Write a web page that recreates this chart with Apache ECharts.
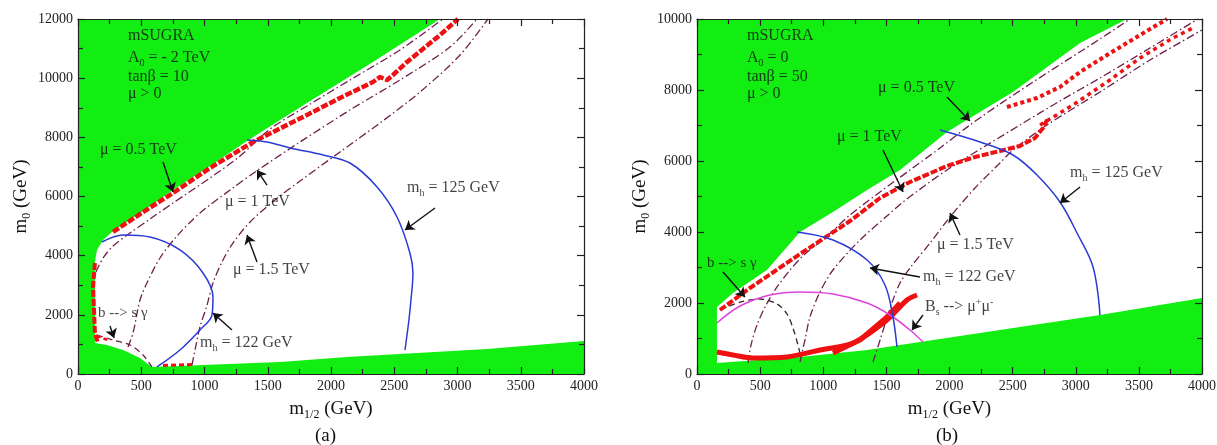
<!DOCTYPE html>
<html>
<head>
<meta charset="utf-8">
<script src="https://cdn.jsdelivr.net/npm/echarts@6/dist/echarts.min.js"></script>
<style>
  html, body { margin: 0; padding: 0; background: #ffffff; }
  #chart { width: 1217px; height: 445px; }
</style>
</head>
<body>
<div id="chart"></div>
<script>
// ---------- axes ----------
const xTicks  = [0, 500, 1000, 1500, 2000, 2500, 3000, 3500, 4000];
const yTicksA = [0, 2000, 4000, 6000, 8000, 10000, 12000];
const yTicksB = [0, 2000, 4000, 6000, 8000, 10000];

// ---------- panel (a): A0 = -2 TeV, tan(beta) = 10 ----------
// theoretically allowed region (outline, m1/2 vs m0 in GeV)
const allowedA = [[134,1048],[134,3786],[150,4192],[198,4530],[277,4834],[490,5442],[751,6220],
  [1043,7031],[1336,7876],[1810,9161],[2332,10547],[2862,12000],[4000,12000],[4000,1115],
  [3233,845],[2126,574],[1597,406],[988,304],[585,237],[490,541],[356,811],[229,980]];
const relicBandA = [[277,4800],[490,5408],[751,6118],[1043,6963],[1383,7842],[1541,8180],[1810,8755],
  [2071,9330],[2332,9870],[2387,10040],[2443,9938],[2490,10107],[2601,10547],[2862,11459],[3004,12000]];
const relicEdgeA = [[134,3752],[119,2941],[134,1386],[158,1048]];
const relicCornerA = [[150,1284],[253,1115]];
const relicBottomA = [[672,290],[909,320]];
const mu05A = [[142,3448],[198,3921],[277,4327],[411,4766],[569,5240],[751,5780],[1043,6625],
  [1281,7369],[1518,8282],[1810,9059],[2150,9938],[2545,10952],[2885,12000]];
const mu10A = [[395,913],[435,1386],[490,2501],[545,3076],[648,3921],[783,4665],[964,5442],
  [1202,6220],[1423,6896],[1755,7842],[2150,8924],[2545,9938],[2941,11054],[3154,12000]];
const mu15A = [[901,304],[933,980],[964,1589],[1020,2332],[1067,3076],[1138,3786],[1225,4428],
  [1360,5138],[1557,5882],[1755,6524],[2071,7504],[2387,8485],[2704,9532],[3020,10783],[3241,12000]];
const bsgA = [[150,1318],[277,1149],[411,980],[514,642],[585,237]];
const mh122A = [[190,4462],[356,4698],[569,4631],[806,4192],[988,3414],[1067,2603],[1059,1994],
  [964,1487],[806,811],[624,237]];
const mh125A = [[1336,7910],[1494,7842],[1676,7640],[1937,7403],[2150,7132],[2364,6321],[2522,5307],
  [2624,4090],[2648,3414],[2632,2501],[2616,1825],[2585,811]];

// ---------- panel (b): A0 = 0, tan(beta) = 50 ----------
const allowedB = [[158,310],[158,1887],[285,2282],[554,2930],[816,4000],[1077,4563],[1347,5183],
  [1608,5746],[1980,6817],[2503,7944],[3034,9324],[3406,10000],[4000,10000],[4000,2141],
  [3192,1662],[1766,901],[1347,676],[816,479]];
const relicUpperB = [[182,1803],[420,2423],[816,3380],[1212,4310],[1450,4958],[1687,5408],[1980,5859],
  [2202,6113],[2400,6282],[2558,6423],[2677,6648],[2741,6930],[2772,7155]];
const relicLowerB = [[158,620],[285,535],[444,451],[713,479],[974,676],[1236,873],[1505,1521],
  [1663,2085],[1743,2225]];
const relicFunnelB = [[1077,592],[1291,958],[1505,1606],[1608,2000]];
const relicDotsUB = [[2455,7521],[2693,7775],[2875,8085],[3034,8507],[3248,8986],[3509,9549],[3723,10000]];
const relicDotsLB = [[2717,7014],[2978,7577],[3248,8225],[3509,8901],[3770,9465],[3945,9775]];
const mu05B = [[404,310],[428,817],[475,1380],[547,1944],[634,2451],[737,2930],[855,3380],[1014,3831],
  [1212,4479],[1450,5127],[1687,5746],[1925,6366],[2162,7014],[2400,7606],[2772,8479],[3192,9437],[3430,10000]];
const mu10B = [[816,338],[855,958],[895,1606],[974,2310],[1077,2930],[1291,3775],[1505,4451],[1632,4845],
  [1980,5746],[2558,7014],[2875,7690],[3192,8338],[3588,9183],[3968,10000]];
const mu15B = [[1394,338],[1450,958],[1505,1577],[1552,2084],[1608,2563],[1687,2986],[1846,3690],
  [2004,4423],[2202,5239],[2400,5944],[2503,6310],[2772,7014],[3192,7944],[3588,8845],[4000,9690]];
const bsgB = [[182,1803],[341,2028],[499,2113],[634,1972],[713,1690],[760,1296],[800,817],[824,451]];
const mh122B = [[792,4000],[1077,3775],[1347,3211],[1489,2507],[1552,1606],[1584,761]];
const mh125B = [[1925,6873],[2242,6535],[2503,6169],[2693,5606],[2875,4845],[3010,3972],[3137,3014],[3192,1662]];
const bsmumuB = [[158,1437],[341,1915],[578,2225],[816,2310],[1077,2254],[1347,2000],[1529,1662],
  [1687,1239],[1790,901]];

// ---------- annotations (text anchored at its left-middle, in axis units) ----------
const notesA = [
  ['{n|mSUGRA}', 395, 11424],
  ['{n|A}{s|0}{n| = - 2 TeV}', 395, 10681],
  ['{n|tanβ = 10}', 395, 10039],
  ['{n|μ > 0}', 395, 9464],
  ['{n|μ = 0.5 TeV}', 174, 7571],
  ['{n|μ = 1 TeV}', 1162, 5814],
  ['{n|μ = 1.5 TeV}', 1225, 3515],
  ['{t|b --> s γ}', 158, 2062],
  ['{n|m}{s|h}{n| = 122 GeV}', 964, 1048],
  ['{n|m}{s|h}{n| = 125 GeV}', 2601, 6287]
];
const arrowsA = [
  [672,7166, 751,6152], [1494,6388, 1415,6895], [1415,3786, 1336,4698],
  [253,1622, 285,1217], [1217,1487, 1067,2062], [2822,5611, 2585,4867]
];
const notesB = [
  ['{n|mSUGRA}', 396, 9521],
  ['{n|A}{s|0}{n| = 0}', 396, 8902],
  ['{n|tanβ = 50}', 396, 8366],
  ['{n|μ > 0}', 396, 7888],
  ['{n|μ = 0.5 TeV}', 1434, 8057],
  ['{n|μ = 1 TeV}', 1109, 6676],
  ['{n|μ = 1.5 TeV}', 1901, 3634],
  ['{n|m}{s|h}{n| = 125 GeV}', 2955, 5662],
  ['{n|m}{s|h}{n| = 122 GeV}', 1790, 2732],
  ['{n|B}{s|s}{n| --> μ}{p|+}{n|μ}{p|-}', 1806, 1887],
  ['{t|b --> s γ}', 79, 3127]
];
const arrowsB = [
  [1980,7803, 2162,7127], [1473,6310, 1632,5127], [2083,3916, 2004,4535],
  [3034,5268, 2875,4817], [1766,2732, 1370,2986], [1790,1662, 1703,1240], [206,2873, 380,2169]
];

// ---------- styling ----------
const FONT = '"Liberation Serif", "DejaVu Serif", serif';
const GREEN = '#12ee12';
const MAROON = '#6e1f4c';
const BLUE = '#2a3bd6';
const MAGENTA = '#dd44dd';
const RED = '#ee1111';
const INK = '#111111';
const DASHDOT = [8, 3, 1.5, 3];

function rich(size) {
  return {
    n: { fontFamily: FONT, fontSize: size, lineHeight: size + 4, color: INK },
    t: { fontFamily: FONT, fontSize: size - 1, lineHeight: size + 4, color: INK },
    s: { fontFamily: FONT, fontSize: Math.round(size * 0.62), lineHeight: Math.round(size * 0.62), verticalAlign: 'bottom', color: INK },
    p: { fontFamily: FONT, fontSize: Math.round(size * 0.62), lineHeight: Math.round(size * 0.62), verticalAlign: 'top', color: INK }
  };
}

const GRIDS = [
  { left: 78, top: 19, width: 506, height: 355 },
  { left: 697, top: 19, width: 505, height: 355 }
];

function plainNumber(v) { return String(v); }

function axisBase(g, ticks) {
  return {
    type: 'value', gridIndex: g, min: ticks[0], max: ticks[ticks.length - 1],
    interval: ticks[1] - ticks[0], z: 6,
    axisLine: { show: true, onZero: false, lineStyle: { color: '#222', width: 1.2 } },
    axisTick: { show: true, inside: true, length: 7, lineStyle: { color: '#222', width: 1.2 } },
    minorTick: { show: true, splitNumber: 2, length: 5, lineStyle: { color: '#222', width: 1.2 } },
    splitLine: { show: false }, minorSplitLine: { show: false }
  };
}

function xAxes(g) {
  const base = axisBase(g, xTicks);
  return [
    Object.assign({}, base, {
      position: 'bottom',
      axisLabel: { show: true, formatter: plainNumber, fontFamily: FONT, fontSize: 14, color: '#222', margin: 5, showMinLabel: true, showMaxLabel: true },
      name: '{n|m}{s|1/2}{n| (GeV)}', nameLocation: 'middle', nameGap: 24,
      nameTextStyle: { rich: rich(19) }
    }),
    Object.assign({}, base, { position: 'top', axisLabel: { show: false } })
  ];
}

function yAxes(g, ticks) {
  const base = axisBase(g, ticks);
  return [
    Object.assign({}, base, {
      position: 'left',
      axisLabel: { show: true, formatter: plainNumber, fontFamily: FONT, fontSize: 14, color: '#222', margin: 5, showMinLabel: true, showMaxLabel: true },
      name: '{n|m}{s|0}{n| (GeV)}', nameLocation: 'middle', nameRotate: 90, nameGap: 45,
      nameTextStyle: { rich: rich(19) }
    }),
    Object.assign({}, base, { position: 'right', axisLabel: { show: false } })
  ];
}

function region(g, pts) {
  return {
    type: 'custom', xAxisIndex: g * 2, yAxisIndex: g * 2, z: 1, silent: true,
    data: [[pts[0][0], pts[0][1]]],
    renderItem: function (params, api) {
      return {
        type: 'polygon',
        shape: { points: pts.map(function (p) { return api.coord(p); }) },
        style: { fill: '#ffffff' }
      };
    }
  };
}

function curve(g, data, color, width, type, smooth, z) {
  return {
    type: 'line', xAxisIndex: g * 2, yAxisIndex: g * 2, data: data,
    showSymbol: false, symbol: 'none', smooth: smooth, silent: true, z: z || 3,
    lineStyle: { color: color, width: width, type: type, cap: 'butt', join: 'round' }
  };
}

function notes(g, list) {
  return {
    type: 'scatter', xAxisIndex: g * 2, yAxisIndex: g * 2, symbolSize: 0, silent: true, z: 10,
    data: list.map(function (a) { return { value: [a[1], a[2]], label: { formatter: a[0] } }; }),
    label: { show: true, position: 'right', distance: 0, rich: rich(16) }
  };
}

function arrows(g, list) {
  return {
    type: 'lines', coordinateSystem: 'cartesian2d', xAxisIndex: g * 2, yAxisIndex: g * 2,
    silent: true, z: 9, symbol: ['none', 'arrow'], symbolSize: 9,
    lineStyle: { color: INK, width: 1.4, opacity: 1, curveness: 0 },
    data: list.map(function (a) { return { coords: [[a[0], a[1]], [a[2], a[3]]] }; })
  };
}

const chart = echarts.init(document.getElementById('chart'), null, { renderer: 'canvas' });

chart.setOption({
  animation: false,
  backgroundColor: '#ffffff',
  grid: GRIDS.map(function (g) {
    return Object.assign({ show: true, backgroundColor: GREEN, borderWidth: 0, containLabel: false, outerBoundsMode: 'none' }, g);
  }),
  xAxis: xAxes(0).concat(xAxes(1)),
  yAxis: yAxes(0, yTicksA).concat(yAxes(1, yTicksB)),
  graphic: [
    { type: 'text', left: 315, top: 427, style: { text: '(a)', font: '19px ' + FONT, fill: INK } },
    { type: 'text', left: 936, top: 427, style: { text: '(b)', font: '19px ' + FONT, fill: INK } }
  ],
  series: [
    // panel (a)
    region(0, allowedA),
    curve(0, mu05A, MAROON, 1.3, DASHDOT, 0.3),
    curve(0, mu10A, MAROON, 1.3, DASHDOT, 0.3),
    curve(0, mu15A, MAROON, 1.3, DASHDOT, 0.3),
    curve(0, bsgA, MAROON, 1.3, [6, 4], 0.3),
    curve(0, relicBandA, RED, 4.5, [7, 2], false, 4),
    curve(0, relicEdgeA, RED, 4, [7, 2], false, 4),
    curve(0, relicCornerA, RED, 2.5, [4, 3], false, 4),
    curve(0, relicBottomA, RED, 3, [5, 3], false, 4),
    curve(0, mh122A, BLUE, 1.5, 'solid', 0.35, 5),
    curve(0, mh125A, BLUE, 1.5, 'solid', 0.35, 5),
    arrows(0, arrowsA),
    notes(0, notesA),
    // panel (b)
    region(1, allowedB),
    curve(1, mu05B, MAROON, 1.3, DASHDOT, 0.3),
    curve(1, mu10B, MAROON, 1.3, DASHDOT, 0.3),
    curve(1, mu15B, MAROON, 1.3, DASHDOT, 0.3),
    curve(1, bsgB, '#3a2030', 1.3, [6, 4], 0.3),
    curve(1, relicUpperB, RED, 4, [7, 2], false, 4),
    curve(1, relicLowerB, RED, 5, 'solid', 0.3, 4),
    curve(1, relicFunnelB, RED, 5, 'solid', false, 4),
    curve(1, relicDotsUB, RED, 4, [4, 3], false, 4),
    curve(1, relicDotsLB, RED, 3.5, [4, 4], false, 4),
    curve(1, bsmumuB, MAGENTA, 1.5, 'solid', 0.35, 5),
    curve(1, mh122B, BLUE, 1.5, 'solid', 0.35, 5),
    curve(1, mh125B, BLUE, 1.5, 'solid', 0.35, 5),
    arrows(1, arrowsB),
    notes(1, notesB)
  ]
});
</script>
</body>
</html>
